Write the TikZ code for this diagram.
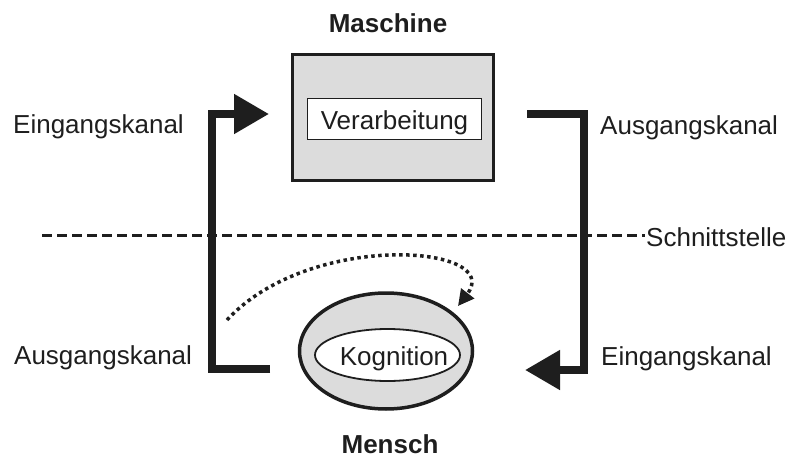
\documentclass[tikz,border=0pt]{standalone}
\usepackage{fontspec}
\setmainfont{Liberation Sans}
\usetikzlibrary{arrows.meta,shapes.geometric}
\definecolor{ink}{HTML}{1E1E1E}
\definecolor{boxgray}{HTML}{DCDCDC}
\begin{document}
\begin{tikzpicture}[x=1pt,y=-1pt,
  lbl/.style={inner sep=0pt,anchor=base west,font=\fontsize{26}{30}\selectfont,text=ink},
  ttl/.style={inner sep=0pt,anchor=base,font=\fontsize{26}{30}\selectfont\bfseries,text=ink},
  chan/.style={draw=ink,line width=8pt,line join=miter,-{Triangle[length=35pt,width=38pt]}},
  ]
\useasboundingbox (0,0) rectangle (790,460);
% machine
\node[draw=ink,line width=3.5pt,fill=boxgray,minimum width=201pt,minimum height=126pt,inner sep=0pt] (maschine) at (393,117.5) {};
\node[draw=ink,line width=1.8pt,fill=white,minimum width=174pt,minimum height=41pt,inner sep=0pt] (verarb) at (394.5,119) {};
\node[inner sep=0pt,anchor=base,font=\fontsize{26}{30}\selectfont,text=ink] (tv) at (394.5,129) {Verarbeitung};
\node[ttl] (tm) at (388,33) {Maschine};
% human
\node[draw=ink,line width=3.5pt,fill=boxgray,ellipse,minimum width=173pt,minimum height=116pt,inner sep=0pt] (mensch) at (386,351) {};
\node[draw=ink,line width=1.8pt,fill=white,ellipse,minimum width=145pt,minimum height=52pt,inner sep=0pt] (kogn) at (387.5,355) {};
\node[inner sep=0pt,anchor=base,font=\fontsize{26}{30}\selectfont,text=ink] (tk) at (394,365) {Kognition};
\node[ttl] (th) at (390,453) {Mensch};
% interface
\draw[ink,line width=3pt,dash pattern=on 10pt off 5pt] (42,235) coordinate (s0) -- (645,235) coordinate (s1);
\node[lbl] (sst) at (646,246) {Schnittstelle};
% channels
\coordinate (a0) at (270,369);
\coordinate (a1) at (212,369);
\coordinate (a2) at (212,114);
\coordinate (a3) at (269,114);
\draw[chan] (a0) -- (a1) -- (a2) -- (a3);
\coordinate (b0) at (527,114);
\coordinate (b1) at (584,114);
\coordinate (b2) at (584,370);
\coordinate (b3) at (525,370);
\draw[chan] (b0) -- (b1) -- (b2) -- (b3);
% dotted
\coordinate (d0) at (227,320);
\coordinate (d1) at (458,306);
\draw[ink,line width=3.5pt,dash pattern=on 3.5pt off 3.5pt,-{Triangle[length=16pt,width=16pt]}] (d0) .. controls (310,230) and (505,245) .. (d1);
% labels
\node[lbl] (l1) at (13,133) {Eingangskanal};
\node[lbl] (l2) at (14,364) {Ausgangskanal};
\node[lbl] (l3) at (600,134) {Ausgangskanal};
\node[lbl] (l4) at (601,365) {Eingangskanal};
\end{tikzpicture}
\end{document}
